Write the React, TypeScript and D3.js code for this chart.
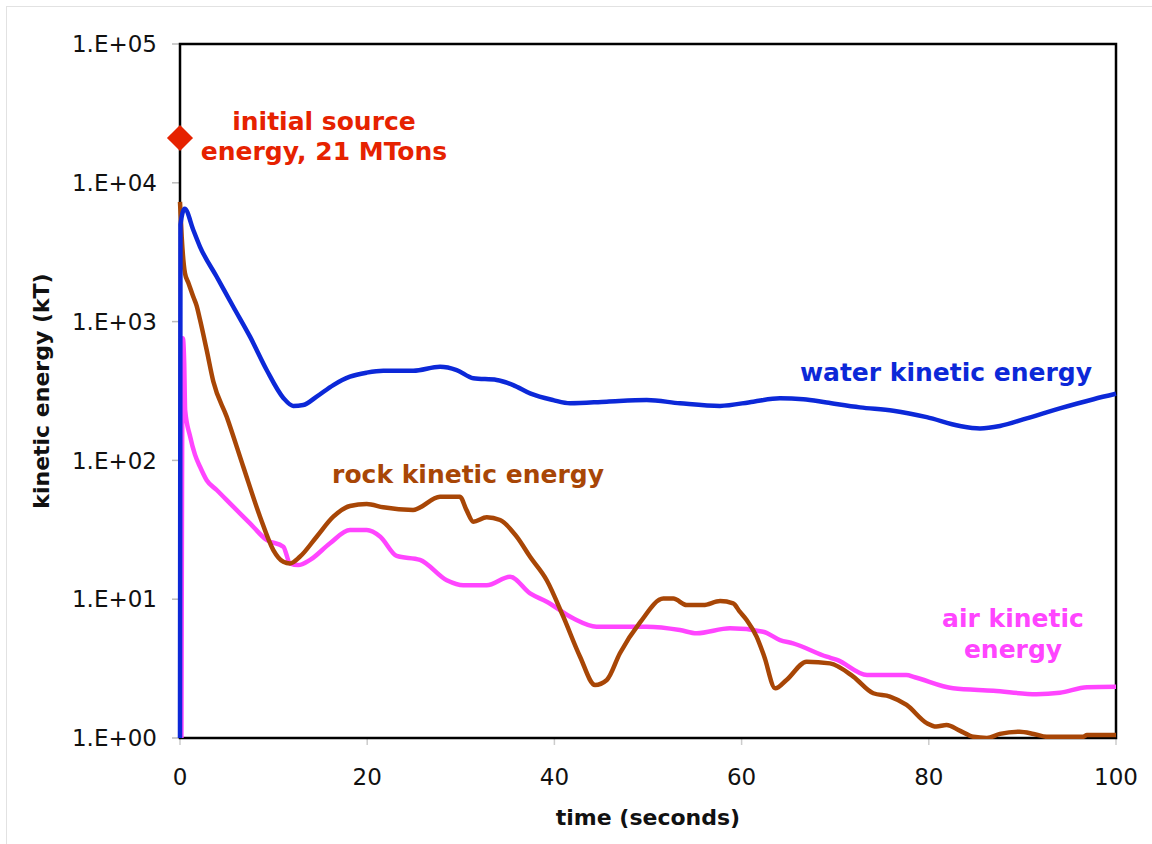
import * as d3 from "d3"

// time (s), kinetic energy (kT)
const waterSeries: [number, number][] = [
  [0, 1], [0.05, 5000], [0.5, 6500], [1.42, 4570], [2.14, 3460], [3.92, 2105],
  [5.69, 1280], [7.48, 779], [9.26, 448], [11.04, 282], [12.1, 247], [13.17, 251],
  [14.6, 288], [16.38, 349], [18.16, 401], [19.95, 429], [21.72, 443], [24.93, 443],
  [27.78, 473], [29.56, 448], [31.34, 391], [33.83, 380], [35.6, 349], [37.4, 304],
  [39.88, 272], [41.67, 258], [45.59, 265], [49.86, 272], [53.42, 258], [57.69, 247],
  [61.25, 265], [64.1, 280], [66.59, 276], [69.09, 261], [72.65, 241], [76.2, 228],
  [79.78, 205], [83.33, 177], [85.47, 170], [87.6, 177], [90.46, 201], [94, 237],
  [97.6, 276], [100, 302],
]

const rockSeries: [number, number][] = [
  [0, 7300], [0.18, 4100], [0.53, 2230], [0.9, 1900], [1.42, 1510], [1.78, 1300],
  [2.14, 1030], [2.85, 624], [3.56, 370], [4.99, 206], [6.76, 90], [8.55, 39.3],
  [9.97, 22.6], [11.04, 18.6], [11.75, 18.1], [12.8, 20.2], [14.6, 28.2], [16.38, 39.3],
  [18.16, 46.9], [19.95, 48.5], [21.72, 45.9], [24.9, 44], [27.78, 54.7], [29.9, 54.7],
  [30.6, 44], [31.34, 36.2], [32.77, 38.9], [34.2, 37.2], [35.97, 28.2], [37.4, 20.2],
  [39.18, 13.7], [40.95, 7.48], [42.74, 3.85], [44.34, 2.41], [45.6, 2.62], [47, 4.08],
  [49.15, 6.8], [51.64, 10.1], [52.7, 10.1], [54.13, 9.08], [55.9, 9.08], [57.7, 9.7],
  [59.1, 9.33], [59.8, 8.13], [60.54, 7.08], [61.6, 5.37], [62.4, 3.9], [63.6, 2.28],
  [64.8, 2.62], [66.95, 3.55], [69.44, 3.45], [71.93, 2.77], [74.07, 2.1], [75.85, 1.99],
  [77.63, 1.73], [79.78, 1.28], [80.8, 1.21], [81.9, 1.24], [83.3, 1.13], [84.76, 1.02],
  [86.2, 1.0], [87.6, 1.07], [89.7, 1.11], [91.2, 1.07], [92.6, 1.02], [96.5, 1.02],
  [96.9, 1.05], [100, 1.05],
]

const airSeries: [number, number][] = [
  [0.15, 1], [0.3, 760], [0.45, 500], [0.55, 230], [1.07, 150], [1.6, 110],
  [2.14, 90], [2.85, 72], [3.92, 61.2], [5.69, 46.4], [7.48, 35.2], [9.26, 26.7],
  [11.04, 23.9], [11.75, 18.1], [12.64, 17.6], [13.9, 19.2], [16.03, 25.3], [18.16, 31.5],
  [19.95, 31.5], [21.4, 28.2], [23.15, 20.5], [25.64, 19.2], [28.5, 13.7], [30.27, 12.6],
  [32.77, 12.6], [35.26, 14.5], [37.4, 11], [39.18, 9.6], [42, 7.28], [44.5, 6.34],
  [49.86, 6.34], [53.4, 6], [55.2, 5.68], [58.76, 6.17], [62.3, 5.83], [64.1, 5.08],
  [65.5, 4.81], [69.1, 3.85], [70.2, 3.65], [73.4, 2.84], [77.6, 2.84], [78.5, 2.74],
  [82.6, 2.28], [86.9, 2.19], [91.5, 2.07], [94, 2.12], [96.9, 2.32], [100, 2.34],
]

const sourceEnergy: [number, number] = [0, 21000]

const xTicks = [0, 20, 40, 60, 80, 100]
const yTicks = [1, 10, 100, 1000, 10000, 100000]
const yTickLabels = ["1.E+00", "1.E+01", "1.E+02", "1.E+03", "1.E+04", "1.E+05"]

const W = 1152
const H = 844
const left = 180
const right = 1116
const top = 44
const bottom = 738

const font = "'DejaVu Sans', Verdana, sans-serif"
const blue = "#0c28d8"
const brown = "#a84606"
const pink = "#ff45ff"
const red = "#e62200"

export default function App() {
  const x = d3.scaleLinear().domain([0, 100]).range([left, right])
  const y = d3.scaleLog().domain([1, 1e5]).range([bottom, top])

  const line = d3
    .line<[number, number]>()
    .x((d) => x(d[0]))
    .y((d) => y(d[1]))
    .curve(d3.curveMonotoneX)

  const diamond = d3.symbol().type(d3.symbolSquare).size(340)()

  return (
    <svg
      width={W}
      height={H}
      style={{ position: "absolute", left: 0, top: 0, background: "#fff" }}
    >
      <defs>
        <clipPath id="plot">
          <rect x={left - 3} y={top - 3} width={right - left + 6} height={bottom - top + 4} />
        </clipPath>
      </defs>
      <rect x={6.5} y={6.5} width={W} height={H} fill="none" stroke="#e2e2e2" />

      {yTicks.map((t, i) => (
        <g key={t}>
          <line x1={left - 8} x2={left} y1={y(t)} y2={y(t)} stroke="#bbb" strokeWidth={1.5} />
          <text
            x={157}
            y={y(t)}
            dy="0.36em"
            textAnchor="end"
            fontFamily={font}
            fontSize={23}
            fill="#111"
          >
            {yTickLabels[i]}
          </text>
        </g>
      ))}
      {xTicks.map((t) => (
        <g key={t}>
          <line x1={x(t)} x2={x(t)} y1={bottom} y2={bottom + 7} stroke="#ccc" strokeWidth={1.5} />
          <text x={x(t)} y={785} textAnchor="middle" fontFamily={font} fontSize={23} fill="#111">
            {t}
          </text>
        </g>
      ))}

      <rect
        x={left}
        y={top}
        width={right - left}
        height={bottom - top}
        fill="none"
        stroke="#000"
        strokeWidth={2.5}
      />

      <g clipPath="url(#plot)" fill="none" strokeWidth={4.5} strokeLinejoin="round">
        <path d={line(airSeries) ?? ""} stroke={pink} />
        <path d={line(rockSeries) ?? ""} stroke={brown} />
        <path d={line(waterSeries) ?? ""} stroke={blue} />
      </g>

      <path
        d={diamond ?? ""}
        transform={`translate(${x(sourceEnergy[0])},${y(sourceEnergy[1])}) rotate(45)`}
        fill={red}
      />

      <g fontFamily={font} fontWeight="bold" fontSize={25} textAnchor="middle">
        <text x={324} y={130} fill={red}>initial source</text>
        <text x={324} y={160} fill={red}>energy, 21 MTons</text>
        <text x={946} y={381} fill={blue}>water kinetic energy</text>
        <text x={468} y={483} fill={brown}>rock kinetic energy</text>
        <text x={1013} y={627} fill={pink}>air kinetic</text>
        <text x={1013} y={658} fill={pink}>energy</text>
      </g>

      <text
        x={(left + right) / 2}
        y={825}
        textAnchor="middle"
        fontFamily={font}
        fontWeight="bold"
        fontSize={22}
        fill="#111"
      >
        time (seconds)
      </text>
      <text
        transform={`translate(49,${(top + bottom) / 2}) rotate(-90)`}
        textAnchor="middle"
        fontFamily={font}
        fontWeight="bold"
        fontSize={22}
        fill="#111"
      >
        kinetic energy (kT)
      </text>
    </svg>
  )
}
